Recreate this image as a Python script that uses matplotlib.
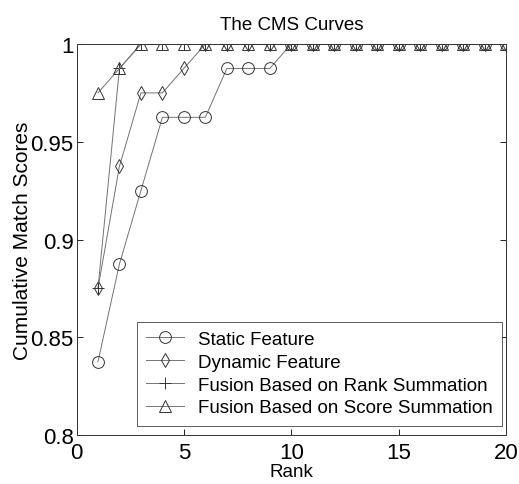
import matplotlib.pyplot as plt
import numpy as np

plt.rcParams['font.family'] = ['Liberation Sans', 'DejaVu Sans']

rank = np.arange(1, 21)
static_feature = [0.8375, 0.8875, 0.925, 0.9625, 0.9625, 0.9625, 0.9875, 0.9875, 0.9875] + [1.0] * 11
dynamic_feature = [0.875, 0.9375, 0.975, 0.975, 0.9875] + [1.0] * 15
rank_summation = [0.875, 0.9875] + [1.0] * 18
score_summation = [0.975, 0.9875] + [1.0] * 18

labels = ['Static Feature', 'Dynamic Feature',
          'Fusion Based on Rank Summation', 'Fusion Based on Score Summation']
markers = ['o', 'd', '+', '^']
msizes = [8.5, 7.5, 8, 8]

fig = plt.figure(figsize=(5.19, 4.85), dpi=100)
ax = fig.add_axes([0.1474, 0.101, 0.8276, 0.8062])

for ys, m, ms, lab in zip([static_feature, dynamic_feature, rank_summation, score_summation],
                          markers, msizes, labels):
    ax.plot(rank, ys, color='0.45', linewidth=0.7, marker=m, markersize=ms,
            markerfacecolor='none', markeredgecolor='0.2', markeredgewidth=0.7,
            label=lab)

ax.set_xlim(0, 20)
ax.set_ylim(0.8, 1.0)
ax.set_xticks([0, 5, 10, 15, 20])
ax.set_yticks([0.8, 0.85, 0.9, 0.95, 1.0])
ax.set_yticklabels(['0.8', '0.85', '0.9', '0.95', '1'])
ax.tick_params(direction='in', top=True, right=True, labelsize=16, length=4, width=0.6)
ax.tick_params(axis='x', pad=5)
ax.tick_params(axis='y', pad=2)
for s in ax.spines.values():
    s.set_linewidth(0.7)
    s.set_color('0.2')

ax.set_title('The CMS Curves', fontsize=13.5, pad=11)
ax.set_xlabel('Rank', fontsize=13.5, labelpad=0)
ax.set_ylabel('Cumulative Match Scores', fontsize=15, labelpad=-1)

leg = ax.legend(loc='lower right', bbox_to_anchor=(0.99, 0.024), bbox_transform=ax.transAxes,
                fontsize=13.5, frameon=True, fancybox=False, edgecolor='0.2',
                handlelength=2.0, borderaxespad=0.0, borderpad=0.5,
                labelspacing=0.3, handletextpad=0.75)
leg.get_frame().set_linewidth(0.7)

fig.savefig('out.png', dpi=100)
